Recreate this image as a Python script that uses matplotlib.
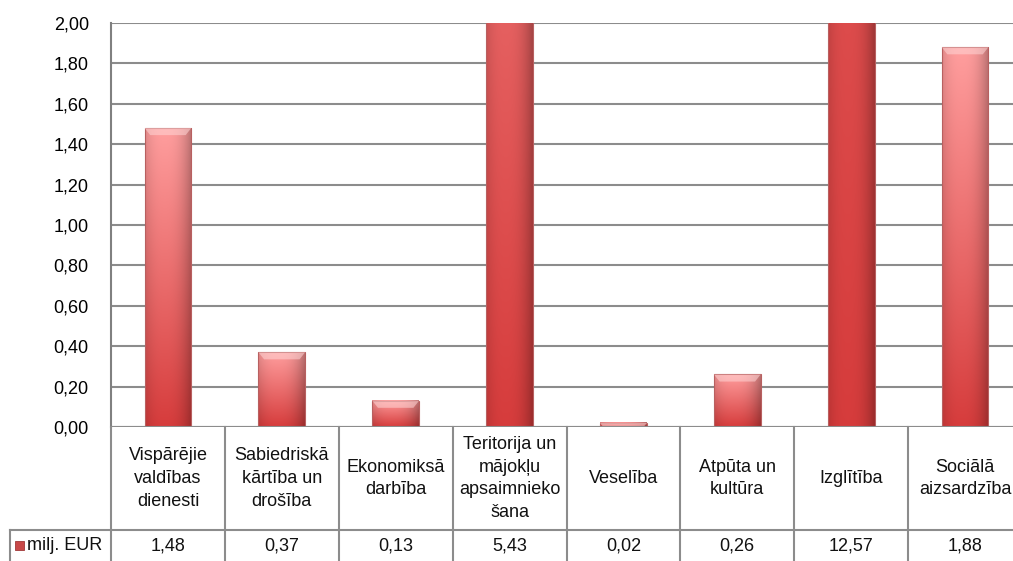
import numpy as np
import matplotlib
matplotlib.use("Agg")
import matplotlib.pyplot as plt
from matplotlib.transforms import blended_transform_factory
from matplotlib.lines import Line2D
from matplotlib.patches import Rectangle, Polygon
from matplotlib import font_manager

categories = ["Vispārējie\nvaldības\ndienesti", "Sabiedriskā\nkārtība un\ndrošība",
              "Ekonomiksā\ndarbība", "Teritorija un\nmājokļu\napsaimnieko\nšana",
              "Veselība", "Atpūta un\nkultūra", "Izglītība", "Sociālā\naizsardzība"]
values = [1.48, 0.37, 0.13, 5.43, 0.02, 0.26, 12.57, 1.88]
value_labels = ["1,48", "0,37", "0,13", "5,43", "0,02", "0,26", "12,57", "1,88"]
series_name = "milj. EUR"
yticks = [0.0, 0.2, 0.4, 0.6, 0.8, 1.0, 1.2, 1.4, 1.6, 1.8, 2.0]

avail = {f.name for f in font_manager.fontManager.ttflist}
fam = [f for f in ["Liberation Sans Narrow", "Liberation Sans", "DejaVu Sans"] if f in avail]
plt.rcParams['font.family'] = fam
FS = 13

W, H = 1013, 561
fig = plt.figure(figsize=(W / 100, H / 100), dpi=100)
fig.patch.set_facecolor("white")

def fx(px):
    return px / W

def fy(py):
    return 1 - py / H

ax = fig.add_axes([fx(111), fy(427), fx(1022) - fx(111), fy(23) - fy(427)])
ax.set_xlim(-0.5, len(values) - 0.5)
ax.set_ylim(0, 2.0)
ax.set_yticks(yticks)
ax.set_yticklabels([f"{v:.2f}".replace(".", ",") for v in yticks], fontsize=FS)
ax.tick_params(axis="y", length=0, pad=16)
ax.set_xticks([])
for s in ["top", "right", "bottom"]:
    ax.spines[s].set_visible(False)
ax.spines["left"].set_color("#808080")
ax.spines["left"].set_linewidth(1.5)
ax.yaxis.grid(True, color="#8c8c8c", linewidth=1.5)
ax.set_axisbelow(True)
ax.patch.set_alpha(0)

gridcol = "#8c8c8c"
top_rgb = np.array([255, 158, 158]) / 255
bot_rgb = np.array([214, 60, 60]) / 255
bw = 0.41
x = np.arange(len(values))

bars = ax.bar(x, values, width=bw, color="none", edgecolor="none", zorder=3)
nv, nh = 200, 60
u = np.linspace(0, 1, nh)
hfac = 1 - 0.28 * (np.abs(u - 0.42) / 0.58) ** 2.5
for b, v in zip(bars, values):
    t = np.linspace(0, 1, nv)[:, None, None]  # 0 top -> 1 bottom
    col = top_rgb[None, None, :] * (1 - t) + bot_rgb[None, None, :] * t
    img = np.clip(col * hfac[None, :, None], 0, 1)
    x0 = b.get_x()
    ax.imshow(img, extent=[x0, x0 + b.get_width(), 0, v], aspect="auto",
              zorder=3, interpolation="bilinear")
    ax.add_patch(Rectangle((x0, 0), b.get_width(), v, fill=False,
                           edgecolor="#b86060", linewidth=0.8, zorder=4))
    if v < 2.0:
        dh = 0.035
        dx = b.get_width() * 0.12
        ax.add_patch(Polygon([[x0, v], [x0 + b.get_width(), v],
                              [x0 + b.get_width() - dx, v - dh], [x0 + dx, v - dh]],
                             closed=True, facecolor="#ffd6d6", edgecolor="none",
                             alpha=0.55, zorder=5))
ax.set_xlim(-0.5, len(values) - 0.5)
ax.set_ylim(0, 2.0)

# data table
tr = blended_transform_factory(ax.transData, fig.transFigure)
y_axis = fy(427)
y_mid = fy(530)
y_bot = fy(H + 5)
lw = 1.5
fig.add_artist(Line2D([fx(10), fx(W + 20)], [y_mid, y_mid], color=gridcol, lw=lw))
ax.axhline(0, color=gridcol, lw=lw, zorder=6)
for b in np.arange(-0.5, len(values) + 0.5, 1.0):
    fig.add_artist(Line2D([b, b], [y_axis, y_bot], color=gridcol, lw=lw, transform=tr))
fig.add_artist(Line2D([fx(10), fx(10)], [y_mid, y_bot], color=gridcol, lw=lw))

for i, (c, vl) in enumerate(zip(categories, value_labels)):
    fig.text(i, (y_axis + y_mid) / 2, c, transform=tr, ha="center", va="center",
             fontsize=FS, linespacing=1.45, color="#111111")
    fig.text(i, fy(546), vl, transform=tr, ha="center", va="center",
             fontsize=FS, color="#111111")

fig.add_artist(Rectangle((fx(15), fy(550)), fx(9), fy(541) - fy(550),
                         facecolor="#c84848", edgecolor="#a03838", lw=0.6))
fig.text(fx(27), fy(546), series_name, ha="left", va="center", fontsize=FS, color="#111111")

fig.savefig("out.png", dpi=100, facecolor="white")
